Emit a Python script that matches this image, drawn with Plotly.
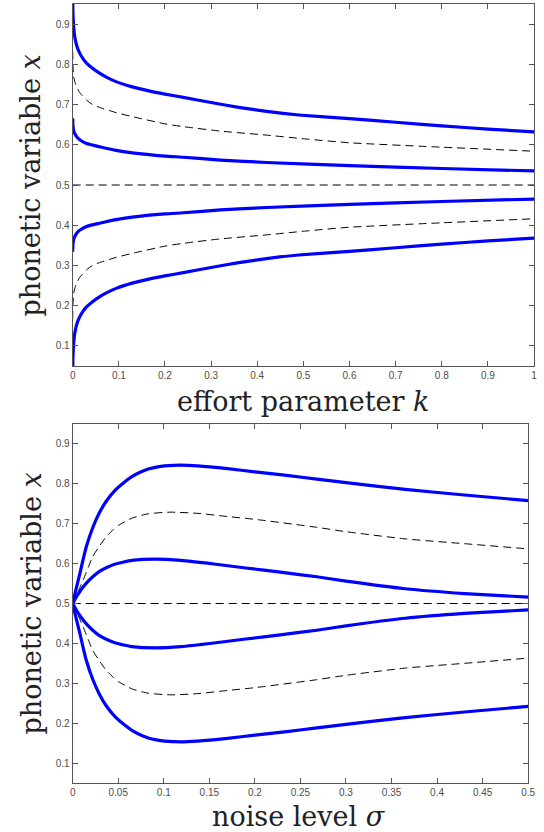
import plotly.graph_objects as go

# ---------------- Top panel: effort parameter k ----------------
K_A = [0, 0.0005, 0.002, 0.005, 0.01, 0.016, 0.023, 0.03, 0.043, 0.058, 0.075, 0.094, 0.129, 0.165, 0.2, 0.24, 0.3, 0.36, 0.42, 0.49, 0.6, 0.7, 0.8, 0.9, 1.0]
TOP_A = [1.0, 0.93, 0.895, 0.865, 0.842, 0.826, 0.813, 0.803, 0.79, 0.778, 0.767, 0.757, 0.744, 0.734, 0.726, 0.718, 0.705, 0.693, 0.683, 0.674, 0.665, 0.656, 0.647, 0.639, 0.632]
TOP_A_LOW = [0.0, 0.07, 0.105, 0.135, 0.158, 0.174, 0.187, 0.197, 0.21, 0.222, 0.233, 0.243, 0.256, 0.266, 0.274, 0.282, 0.295, 0.307, 0.317, 0.326, 0.335, 0.344, 0.353, 0.361, 0.368]

K_B = [0, 0.0005, 0.002, 0.005, 0.01, 0.016, 0.03, 0.058, 0.094, 0.129, 0.2, 0.24, 0.32, 0.42, 0.6, 0.8, 1.0]
TOP_B = [0.666, 0.648, 0.636, 0.627, 0.618, 0.612, 0.603, 0.595, 0.586, 0.580, 0.572, 0.569, 0.562, 0.556, 0.548, 0.541, 0.535]
TOP_B_LOW = [0.334, 0.352, 0.364, 0.373, 0.382, 0.388, 0.397, 0.405, 0.414, 0.420, 0.428, 0.431, 0.438, 0.444, 0.452, 0.459, 0.465]

K_D = [0, 0.0005, 0.002, 0.005, 0.0085, 0.015, 0.03, 0.043, 0.058, 0.094, 0.129, 0.2, 0.24, 0.32, 0.42, 0.5, 0.6, 0.8, 1.0]
TOP_D = [0.833, 0.80, 0.77, 0.755, 0.744, 0.73, 0.711, 0.70, 0.693, 0.68, 0.670, 0.652, 0.645, 0.634, 0.624, 0.615, 0.605, 0.594, 0.584]
TOP_D_LOW = [0.167, 0.20, 0.23, 0.245, 0.256, 0.27, 0.289, 0.30, 0.307, 0.32, 0.330, 0.348, 0.355, 0.366, 0.376, 0.385, 0.395, 0.406, 0.416]

K_M = [0, 1]
TOP_M = [0.5, 0.5]

K_TICKS = [0, 0.1, 0.2, 0.3, 0.4, 0.5, 0.6, 0.7, 0.8, 0.9, 1]
K_TICKTEXT = ["0", "0.1", "0.2", "0.3", "0.4", "0.5", "0.6", "0.7", "0.8", "0.9", "1"]

# ---------------- Bottom panel: noise level sigma ----------------
S_A = [0, 0.004, 0.008, 0.011, 0.015, 0.022, 0.029, 0.037, 0.047, 0.056, 0.065, 0.074, 0.083, 0.092, 0.101, 0.119, 0.137, 0.17, 0.2, 0.235, 0.268, 0.3, 0.365, 0.43, 0.5]
BOT_A = [0.5, 0.539, 0.576, 0.606, 0.643, 0.690, 0.726, 0.757, 0.785, 0.803, 0.818, 0.829, 0.837, 0.842, 0.845, 0.847, 0.845, 0.838, 0.830, 0.821, 0.812, 0.803, 0.786, 0.772, 0.758]
BOT_A_LOW = [0.5, 0.461, 0.424, 0.394, 0.357, 0.310, 0.274, 0.243, 0.215, 0.197, 0.182, 0.171, 0.163, 0.158, 0.155, 0.153, 0.155, 0.162, 0.170, 0.179, 0.188, 0.197, 0.214, 0.228, 0.242]

S_B = [0, 0.005, 0.01, 0.015, 0.022, 0.029, 0.038, 0.047, 0.056, 0.065, 0.09, 0.119, 0.155, 0.19, 0.23, 0.268, 0.3, 0.365, 0.43, 0.5]
BOT_B = [0.5, 0.52, 0.537, 0.551, 0.567, 0.580, 0.591, 0.599, 0.604, 0.608, 0.611, 0.608, 0.599, 0.589, 0.578, 0.567, 0.556, 0.537, 0.525, 0.516]
BOT_B_LOW = [0.5, 0.48, 0.463, 0.449, 0.433, 0.420, 0.409, 0.401, 0.396, 0.392, 0.389, 0.392, 0.401, 0.411, 0.422, 0.433, 0.444, 0.463, 0.475, 0.484]

S_D = [0, 0.006, 0.0115, 0.017, 0.022, 0.03, 0.037, 0.044, 0.051, 0.065, 0.083, 0.108, 0.137, 0.17, 0.2, 0.268, 0.3, 0.365, 0.43, 0.5]
BOT_D = [0.5, 0.53, 0.559, 0.59, 0.618, 0.646, 0.668, 0.684, 0.697, 0.714, 0.725, 0.729, 0.726, 0.718, 0.711, 0.691, 0.680, 0.662, 0.650, 0.637]
BOT_D_LOW = [0.5, 0.47, 0.441, 0.41, 0.382, 0.354, 0.332, 0.316, 0.303, 0.286, 0.275, 0.271, 0.274, 0.282, 0.289, 0.309, 0.320, 0.338, 0.350, 0.363]

S_M = [0, 0.5]
BOT_M = [0.5, 0.5]

S_TICKS = [0, 0.05, 0.1, 0.15, 0.2, 0.25, 0.3, 0.35, 0.4, 0.45, 0.5]
S_TICKTEXT = ["0", "0.05", "0.1", "0.15", "0.2", "0.25", "0.3", "0.35", "0.4", "0.45", "0.5"]

Y_TICKS = [0.1, 0.2, 0.3, 0.4, 0.5, 0.6, 0.7, 0.8, 0.9]
Y_TICKTEXT = ["0.1", "0.2", "0.3", "0.4", "0.5", "0.6", "0.7", "0.8", "0.9"]

BLUE = "#0000ff"
AX = "#555555"
SERIF = "DejaVu Serif, Liberation Serif, serif"
SANS = "Liberation Sans, Arial, Helvetica, sans-serif"

fig = go.Figure()

def solid(x, y, xa, ya):
    fig.add_trace(go.Scatter(x=x, y=y, mode="lines", xaxis=xa, yaxis=ya,
                             line=dict(color=BLUE, width=3.2, shape="spline", smoothing=0.5),
                             showlegend=False, hoverinfo="skip"))

def dashed(x, y, xa, ya):
    fig.add_trace(go.Scatter(x=x, y=y, mode="lines", xaxis=xa, yaxis=ya,
                             line=dict(color="black", width=1, dash="8px,5px", shape="spline", smoothing=0.5),
                             showlegend=False, hoverinfo="skip"))

# top
dashed(K_D, TOP_D, "x", "y")
dashed(K_M, TOP_M, "x", "y")
dashed(K_D, TOP_D_LOW, "x", "y")
solid(K_A, TOP_A, "x", "y")
solid(K_B, TOP_B, "x", "y")
solid(K_B, TOP_B_LOW, "x", "y")
solid(K_A, TOP_A_LOW, "x", "y")
# bottom
dashed(S_D, BOT_D, "x2", "y2")
dashed(S_M, BOT_M, "x2", "y2")
dashed(S_D, BOT_D_LOW, "x2", "y2")
solid(S_A, BOT_A, "x2", "y2")
solid(S_B, BOT_B, "x2", "y2")
solid(S_B, BOT_B_LOW, "x2", "y2")
solid(S_A, BOT_A_LOW, "x2", "y2")

W, H = 544, 832

def axstyle(**kw):
    d = dict(showgrid=False, zeroline=False, showline=True, linecolor=AX, linewidth=1,
             mirror="ticks", ticks="inside", ticklen=5, tickwidth=1, tickcolor=AX,
             tickfont=dict(family=SANS, size=10, color="#4d4d4d"))
    d.update(kw)
    return d

fig.update_layout(
    width=W, height=H,
    margin=dict(l=0, r=0, t=0, b=0),
    paper_bgcolor="white", plot_bgcolor="white",
    xaxis=axstyle(domain=[71 / W, 541 / W], range=[0, 1], anchor="y",
                  tickvals=K_TICKS, ticktext=K_TICKTEXT),
    yaxis=axstyle(domain=[1 - 366 / H, 1 - 4 / H], range=[0.05, 0.95], anchor="x",
                  tickvals=Y_TICKS, ticktext=Y_TICKTEXT),
    xaxis2=axstyle(domain=[71 / W, 535 / W], range=[0, 0.5], anchor="y2",
                   tickvals=S_TICKS, ticktext=S_TICKTEXT),
    yaxis2=axstyle(domain=[1 - 783 / H, 1 - 424 / H], range=[0.05, 0.95], anchor="x2",
                   tickvals=Y_TICKS, ticktext=Y_TICKTEXT),
)

title_font = dict(family=SERIF, size=27, color="#222222")
fig.add_annotation(text="effort parameter <i>k</i>", xref="paper", yref="paper",
                   x=306 / W, y=1 - 402 / H, showarrow=False, font=title_font,
                   xanchor="center", yanchor="middle")
fig.add_annotation(text="noise level <i>σ</i>", xref="paper", yref="paper",
                   x=302 / W, y=1 - 816 / H, showarrow=False, font=title_font,
                   xanchor="center", yanchor="middle")
fig.add_annotation(text="phonetic variable <i>x</i>", xref="paper", yref="paper",
                   x=29 / W, y=1 - 185 / H, showarrow=False, font=title_font,
                   textangle=-90, xanchor="center", yanchor="middle")
fig.add_annotation(text="phonetic variable <i>x</i>", xref="paper", yref="paper",
                   x=29 / W, y=1 - 603 / H, showarrow=False, font=title_font,
                   textangle=-90, xanchor="center", yanchor="middle")

fig.write_html("out.html", config={"displayModeBar": False},
               post_script="document.body.style.margin='0px';document.body.style.overflow='hidden';")
